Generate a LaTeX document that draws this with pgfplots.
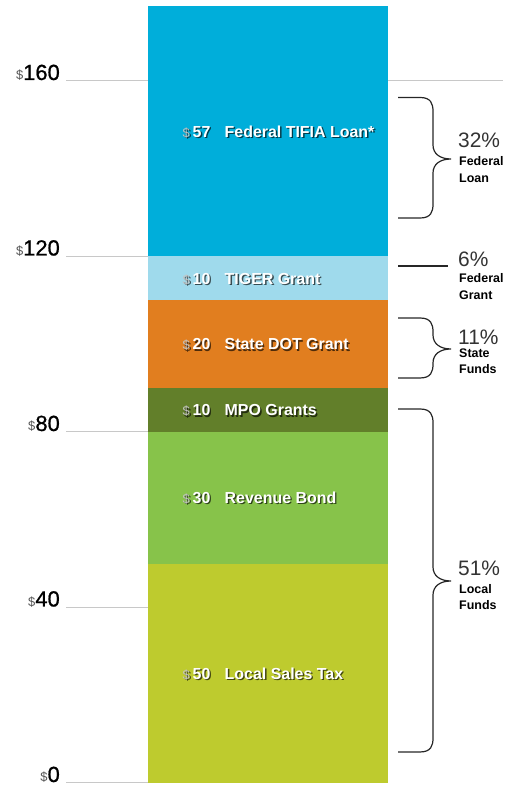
\documentclass[border=0pt]{standalone}
\usepackage{pgfplots}
\pgfplotsset{compat=1.18}
\usepackage{fontspec}
\setmainfont{Liberation Sans}
\newfontface\medfont{Liberation Sans}[FakeBold=0.8]
\definecolor{cTifia}{HTML}{00AEDA}
\definecolor{cTiger}{HTML}{9FDAEC}
\definecolor{cState}{HTML}{E17E1F}
\definecolor{cMpo}{HTML}{627F2A}
\definecolor{cRev}{HTML}{87C34A}
\definecolor{cSales}{HTML}{BECB2E}
\definecolor{gridc}{HTML}{C8C8C8}
\definecolor{tickgray}{HTML}{555555}
\definecolor{dollarc}{HTML}{C4C4C4}
\definecolor{pctc}{HTML}{333333}

\pgfplotsset{frame/.style={
  width=509bp, height=786bp, scale only axis,
  xmin=0, xmax=509, ymin=-0.684, ymax=178.46,
  hide axis, clip=false}}

\newcommand{\lab}[3]{\makebox[10bp][l]{\fontsize{13}{13}\selectfont\color{#1}\$}\makebox[32bp][l]{\fontsize{16}{16}\selectfont\bfseries #2}{\fontsize{16}{16}\selectfont\bfseries #3}}
\newcommand{\barlab}[3]{%
  \node[anchor=base west, inner sep=0, text=black, opacity=0.65, xshift=1.4bp, yshift=-7.1bp] at (axis cs:182.5,#1) {\lab{black}{#2}{#3}};
  \node[anchor=base west, inner sep=0, text=white, yshift=-5.7bp] at (axis cs:182.5,#1) {\lab{dollarc}{#2}{#3}};
}
\newcommand{\ytl}[1]{%
  \draw[gridc, line width=1bp] (axis cs:66,#1) -- (axis cs:148,#1);
  \node[anchor=base east, inner sep=0, yshift=1bp] at (axis cs:60,#1) {{\fontsize{13}{13}\selectfont\color{tickgray}\$}\fontsize{22}{22}\medfont #1};
}
% brace: top, tip, bottom (data units); r = 3.19 data units (14 px)
\newcommand{\mybrace}[3]{%
  \draw[black!85, line width=1.2bp] (axis cs:398,#1) -- (axis cs:420,#1)
    .. controls (axis cs:431,#1) and (axis cs:433,{#1-1.4}) .. (axis cs:433,{#1-3.19})
    -- (axis cs:433,{#2+3.19})
    .. controls (axis cs:433,{#2+1.2}) and (axis cs:440,#2) .. (axis cs:451,#2)
    .. controls (axis cs:440,#2) and (axis cs:433,{#2-1.2}) .. (axis cs:433,{#2-3.19})
    -- (axis cs:433,{#3+3.19})
    .. controls (axis cs:433,{#3+1.4}) and (axis cs:431,#3) .. (axis cs:420,#3)
    -- (axis cs:398,#3);
}
\newcommand{\pct}[6]{% baselines: pct, line1, line2 (data units); texts
  \node[anchor=base west, inner sep=0, text=pctc] at (axis cs:458,#1) {\fontsize{21}{21}\selectfont #4};
  \node[anchor=base west, inner sep=0] at (axis cs:459,#2) {\fontsize{12.5}{13}\selectfont\bfseries #5};
  \node[anchor=base west, inner sep=0] at (axis cs:459,#3) {\fontsize{12.5}{13}\selectfont\bfseries #6};
}

\begin{document}
\begin{tikzpicture}
\begin{axis}[frame, ybar stacked, bar width=240]
\path (axis cs:0,-0.684) rectangle (axis cs:509,178.46);
\ytl{0}\ytl{40}\ytl{80}\ytl{120}\ytl{160}
\draw[gridc, line width=1bp] (axis cs:388,160) -- (axis cs:503,160);

\addplot[fill=cSales, draw=none] coordinates {(268,50)};
\addplot[fill=cRev, draw=none] coordinates {(268,30)};
\addplot[fill=cMpo, draw=none] coordinates {(268,10)};
\addplot[fill=cState, draw=none] coordinates {(268,20)};
\addplot[fill=cTiger, draw=none] coordinates {(268,10)};
\addplot[fill=cTifia, draw=none] coordinates {(268,57)};
\end{axis}
\begin{axis}[frame]
\barlab{25}{50}{Local Sales Tax}
\barlab{65}{30}{Revenue Bond}
\barlab{85}{10}{MPO Grants}
\barlab{100}{20}{State DOT Grant}
\barlab{115}{10}{TIGER Grant}
\barlab{148.5}{57}{Federal TIFIA Loan*}

\mybrace{156.24}{142.22}{128.77}
\mybrace{105.98}{98.92}{92.31}
\mybrace{85.24}{46.04}{7.07}
\draw[black!85, line width=1.2bp] (axis cs:398,117.83) -- (axis cs:448,117.83);

\pct{144.73}{140.63}{136.75}{32\%}{Federal}{Loan}
\pct{117.61}{113.96}{110.31}{6\%}{Federal}{Grant}
\pct{99.83}{96.87}{93.22}{11\%}{State}{Funds}
\pct{47.18}{43.30}{39.43}{51\%}{Local}{Funds}
\end{axis}
\end{tikzpicture}
\end{document}
